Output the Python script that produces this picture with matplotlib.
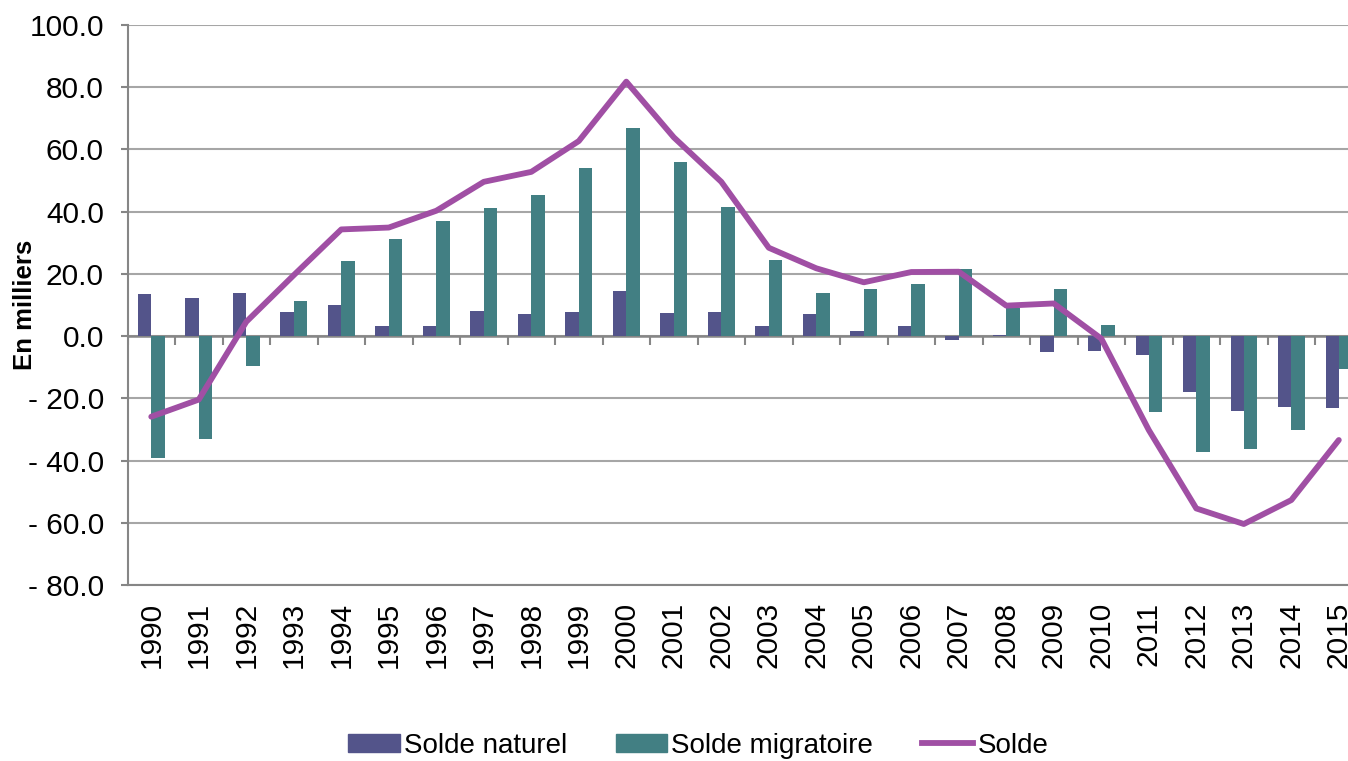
import matplotlib.pyplot as plt
import numpy as np
from matplotlib.patches import Patch
from matplotlib.lines import Line2D

plt.rcParams['font.family'] = ['Liberation Sans', 'DejaVu Sans']

# Données (en milliers)
years = [str(y) for y in range(1990, 2016)]
solde_naturel = [13.4, 12.1, 14.0, 7.8, 9.9, 3.3, 3.1, 8.0, 7.0, 7.8,
                 14.4, 7.4, 7.8, 3.3, 7.0, 1.7, 3.2, -1.1, 0.2, -5.1,
                 -4.8, -6.1, -18.0, -24.0, -22.7, -23.1]
solde_migratoire = [-39.3, -33.0, -9.5, 11.3, 24.1, 31.2, 37.0, 41.3, 45.5, 54.1,
                    67.0, 56.1, 41.6, 24.4, 14.0, 15.1, 16.8, 21.5, 8.9, 15.1,
                    3.5, -24.5, -37.4, -36.3, -30.2, -10.6]
solde = [-25.9, -20.4, 4.6, 19.6, 34.3, 34.9, 40.3, 49.6, 52.8, 62.7,
         81.8, 63.9, 49.6, 28.4, 21.8, 17.3, 20.6, 20.7, 9.8, 10.5,
         -0.8, -30.2, -55.4, -60.4, -52.7, -33.4]

c_nat = '#53548A'
c_mig = '#427F83'
c_sol = '#A04FA4'
grid_c = '#A6A6A6'
axis_c = '#868686'

fig = plt.figure(figsize=(13.48, 7.61), dpi=100)
ax = fig.add_axes([0.0946, 0.2313, 0.9162, 0.7358])

x = np.arange(len(years))
w = 0.28
ax.bar(x - w / 2, solde_naturel, w, color=c_nat, zorder=3)
ax.bar(x + w / 2, solde_migratoire, w, color=c_mig, zorder=3)
ax.plot(x, solde, color=c_sol, lw=4.2, solid_capstyle='round', zorder=4)

ax.set_xlim(-0.5, len(years) - 0.5)
ax.set_ylim(-80, 100)
yt = np.arange(-80, 101, 20)
ax.set_yticks(yt)
ax.set_yticklabels([f'{v:.1f}' if v >= 0 else f'- {abs(v):.1f}' for v in yt], fontsize=21.5)
ax.yaxis.grid(True, color=grid_c, lw=1.5, zorder=0)
ax.tick_params(axis='y', length=5, width=1.5, color=axis_c, pad=12)

ax.set_xticks(x)
ax.set_xticklabels(years, rotation=90, fontsize=21.5)
ax.tick_params(axis='x', length=0, pad=12)

# axe horizontal au niveau zéro avec graduations entre catégories
ax.axhline(0, color=axis_c, lw=1.8, zorder=2)
bounds = np.arange(len(years) + 1) - 0.5
ax.vlines(bounds, -2.9, 0, color=axis_c, lw=1.5, zorder=2)

for s in ['top', 'right']:
    ax.spines[s].set_visible(False)
for s in ['left', 'bottom']:
    ax.spines[s].set_color(axis_c)
    ax.spines[s].set_linewidth(1.5)

ax.set_ylabel('En milliers', fontsize=18.5, fontweight='bold')
ax.yaxis.set_label_coords(-0.0733, 0.5)

handles = [Patch(color=c_nat), Patch(color=c_mig), Line2D([], [], color=c_sol, lw=4.2)]
fig.legend(handles, ['Solde naturel', 'Solde migratoire', 'Solde'],
           loc='center', bbox_to_anchor=(0.518, 0.02), ncol=3, frameon=False,
           prop={'size': 20}, handlelength=1.85, handleheight=0.6,
           handletextpad=0.15, columnspacing=1.75)

fig.savefig('out.png', dpi=100)
